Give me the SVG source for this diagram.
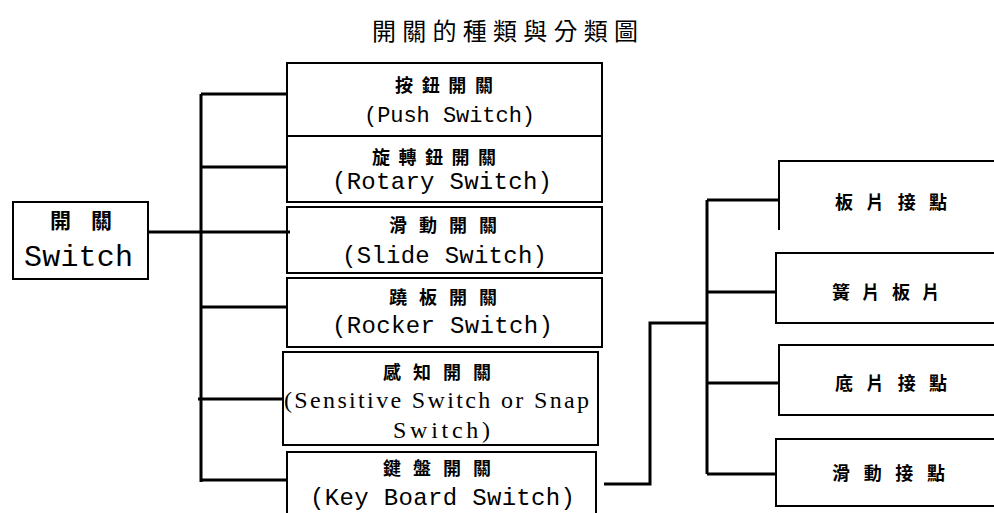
<svg xmlns="http://www.w3.org/2000/svg" width="994" height="513" viewBox="0 0 994 513">
<style>
.bg{fill:#fff}
.box{fill:none;stroke:#000;stroke-width:2}
.ln{fill:none;stroke:#000;stroke-width:3}
.zh{font-family:"Noto Sans CJK TC","Noto Sans CJK SC",sans-serif;font-size:18px;font-weight:bold;fill:#000}
.mono{font-family:"Liberation Mono","DejaVu Sans Mono",monospace;fill:#000}
.serif{font-family:"Liberation Serif","DejaVu Serif",serif;fill:#000}
</style>
<rect class="bg" x="0" y="0" width="994" height="513"/>
<text id="title" x="372" y="40" class="zh" style="font-size:24px;font-weight:normal" textLength="266" lengthAdjust="spacing">開關的種類與分類圖</text>
<g id="connectors">
  <path class="ln" d="M148,232 H290"/>
  <path class="ln" d="M201,94 V482"/>
  <path class="ln" d="M201,94 H288"/>
  <path class="ln" d="M201,167 H288"/>
  <path class="ln" d="M201,307 H288"/>
  <path class="ln" d="M198,399 H284"/>
  <path class="ln" d="M201,480 H288"/>
  <path class="ln" d="M604,484 H650 V323 H708"/>
  <path class="ln" d="M707,200 V474"/>
  <path class="ln" d="M707,200 H779"/>
  <path class="ln" d="M707,292 H777"/>
  <path class="ln" d="M707,383 H779"/>
  <path class="ln" d="M707,474 H777"/>
</g>
<g id="switch">
  <rect class="box" x="13" y="202" width="135" height="77"/>
  <text class="zh" x="50" y="228" style="font-size:21px" textLength="62" lengthAdjust="spacing">開關</text>
  <text class="mono" x="24" y="266" style="font-size:30px" textLength="109" lengthAdjust="spacing">Switch</text>
</g>
<g id="push">
  <rect class="box" x="287" y="63" width="315" height="73"/>
  <text class="zh" x="395" y="92" textLength="98" lengthAdjust="spacing">按鈕開關</text>
  <text class="mono" x="364" y="122" style="font-size:22px" textLength="171" lengthAdjust="spacing">(Push Switch)</text>
</g>
<g id="rotary">
  <rect class="box" x="287" y="136" width="315" height="66"/>
  <text class="zh" x="372" y="164" textLength="124" lengthAdjust="spacing">旋轉鈕開關</text>
  <text class="mono" x="332" y="189" style="font-size:24px" textLength="220" lengthAdjust="spacing">(Rotary Switch)</text>
</g>
<g id="slide">
  <rect class="box" x="287" y="207" width="315" height="66"/>
  <text class="zh" x="389" y="232" textLength="108" lengthAdjust="spacing">滑動開關</text>
  <text class="mono" x="342" y="263" style="font-size:24px" textLength="205" lengthAdjust="spacing">(Slide Switch)</text>
</g>
<g id="rocker">
  <rect class="box" x="287" y="278" width="315" height="69"/>
  <text class="zh" x="389" y="304" textLength="108" lengthAdjust="spacing">蹺板開關</text>
  <text class="mono" x="332" y="333" style="font-size:24px" textLength="221" lengthAdjust="spacing">(Rocker Switch)</text>
</g>
<g id="sensitive">
  <rect class="box" x="283" y="352" width="315" height="93"/>
  <text class="zh" x="383" y="379" textLength="108" lengthAdjust="spacing">感知開關</text>
  <text class="serif" x="284" y="408" style="font-size:24px" textLength="305" lengthAdjust="spacing">(Sensitive Switch or Snap</text>
  <text class="serif" x="393" y="438" style="font-size:24px" textLength="97" lengthAdjust="spacing">Switch)</text>
</g>
<g id="keyboard">
  <path class="box" d="M287,513 V452 H596 V513"/>
  <text class="zh" x="383" y="475" textLength="108" lengthAdjust="spacing">鍵盤開關</text>
  <text class="mono" x="310" y="505" style="font-size:24px" textLength="265" lengthAdjust="spacing">(Key Board Switch)</text>
</g>
<g id="plate">
  <path class="box" d="M779,230 V161 H994"/>
  <text class="zh" x="835" y="209" textLength="112" lengthAdjust="spacing">板片接點</text>
</g>
<g id="reed">
  <path class="box" d="M994,253 H776 V323 H994"/>
  <text class="zh" x="832" y="299" textLength="108" lengthAdjust="spacing">簧片板片</text>
</g>
<g id="base">
  <path class="box" d="M994,345 H779 V415 H994"/>
  <text class="zh" x="835" y="390" textLength="112" lengthAdjust="spacing">底片接點</text>
</g>
<g id="slidecontact">
  <path class="box" d="M994,439 H776 V506 H994"/>
  <text class="zh" x="832" y="480" textLength="113" lengthAdjust="spacing">滑動接點</text>
</g>
</svg>
